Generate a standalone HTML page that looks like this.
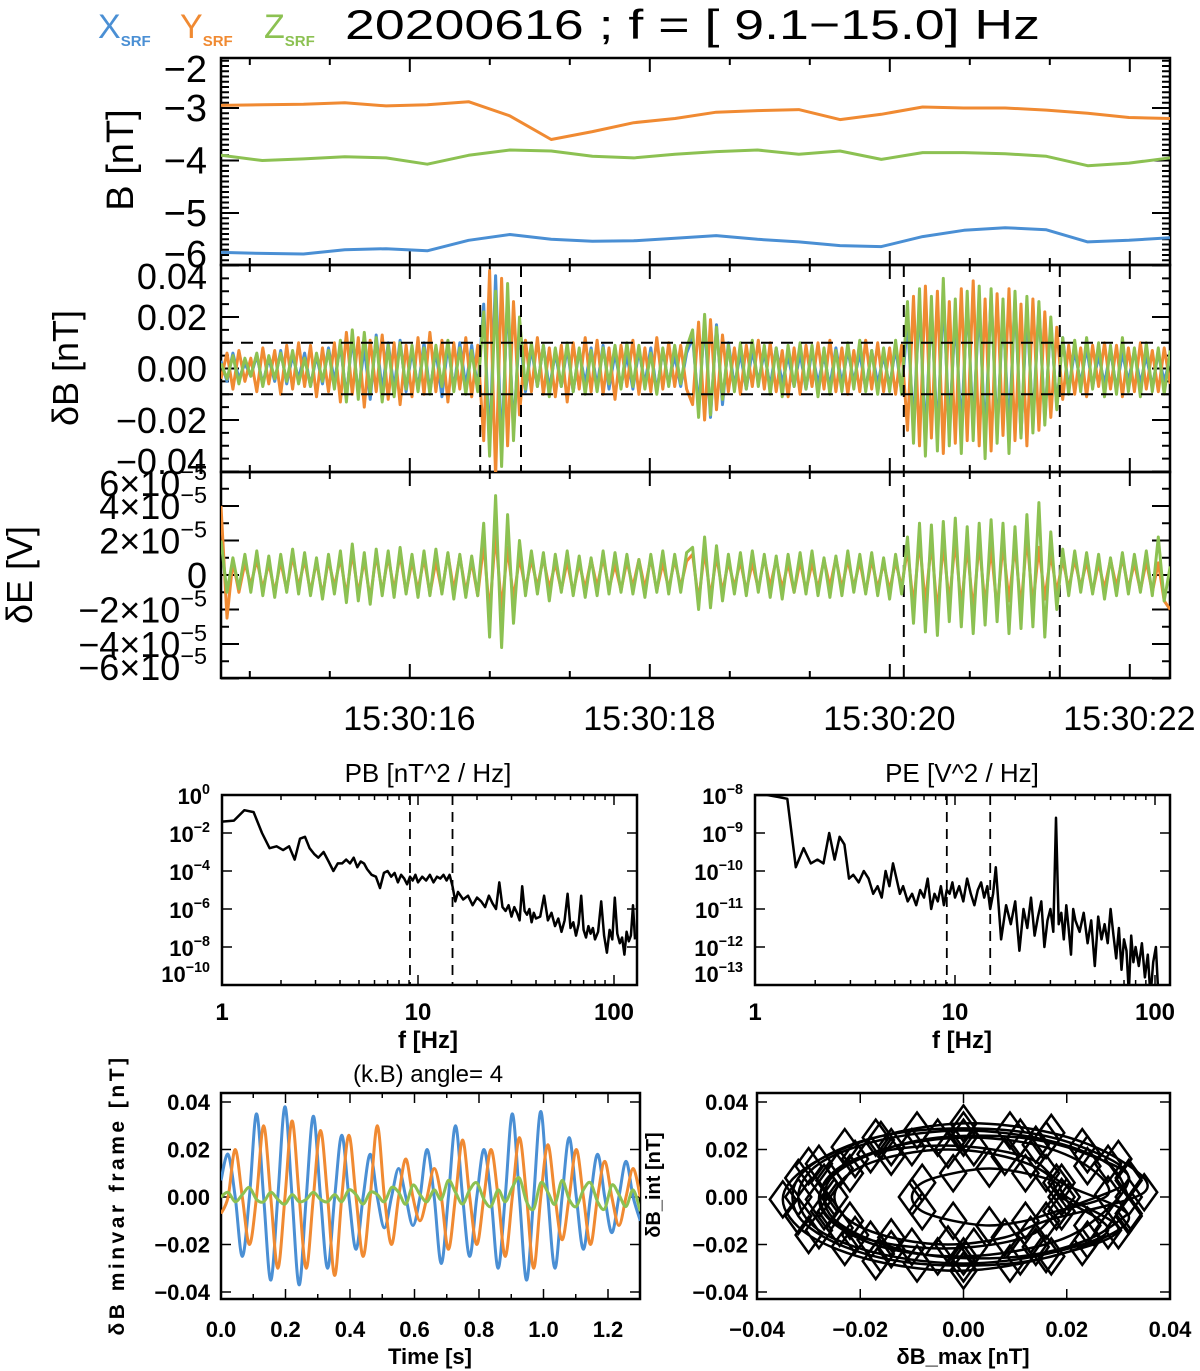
<!DOCTYPE html>
<html><head><meta charset="utf-8"><style>
html,body{margin:0;padding:0;background:#fff;}
svg{display:block;font-family:"Liberation Sans",sans-serif;}
</style></head><body>
<svg id="fig" width="1200" height="1371" viewBox="0 0 1200 1371" xmlns="http://www.w3.org/2000/svg">
<defs>
<clipPath id="cB"><rect x="221" y="58" width="949" height="207"/></clipPath>
<clipPath id="cDB"><rect x="221" y="265" width="949" height="207"/></clipPath>
<clipPath id="cDE"><rect x="221" y="472" width="949" height="206"/></clipPath>
<clipPath id="cPB"><rect x="222" y="795" width="415" height="190"/></clipPath>
<clipPath id="cPE"><rect x="755" y="795" width="415" height="190"/></clipPath>
<clipPath id="cMV"><rect x="221" y="1093" width="419" height="206"/></clipPath>
<clipPath id="cHO"><rect x="757" y="1093" width="413" height="206"/></clipPath>
</defs>
<g>
<text x="98" y="38" font-size="34" fill="#4a8fd4">X<tspan font-size="15" font-weight="bold" dy="8">SRF</tspan></text>
<text x="180" y="38" font-size="34" fill="#f08a32">Y<tspan font-size="15" font-weight="bold" dy="8">SRF</tspan></text>
<text x="264" y="38" font-size="34" fill="#8cc152">Z<tspan font-size="15" font-weight="bold" dy="8">SRF</tspan></text>
</g>
<text x="345" y="39" font-size="42" fill="#000" textLength="695" lengthAdjust="spacingAndGlyphs">20200616 ; f = [ 9.1−15.0] Hz</text>
<g id="layer"></g>
</svg>
<script>
// ---------- data ----------
const tStart = 14.43, tEnd = 22.34;
const timeTicks = [16, 18, 20, 22];
const timeTickLabels = ["15:30:16","15:30:18","15:30:20","15:30:22"];
const bX = [-5.75,-5.77,-5.78,-5.7,-5.68,-5.72,-5.52,-5.41,-5.5,-5.54,-5.53,-5.48,-5.43,-5.5,-5.55,-5.62,-5.64,-5.45,-5.33,-5.28,-5.32,-5.55,-5.52,-5.47];
const bY = [-2.95,-2.94,-2.93,-2.9,-2.96,-2.94,-2.88,-3.15,-3.6,-3.45,-3.28,-3.2,-3.08,-3.05,-3.03,-3.22,-3.12,-2.98,-3.0,-3.0,-3.04,-3.1,-3.18,-3.2];
const bZ = [-3.9,-4.0,-3.97,-3.93,-3.95,-4.07,-3.9,-3.8,-3.82,-3.92,-3.95,-3.88,-3.83,-3.8,-3.88,-3.82,-3.98,-3.85,-3.85,-3.87,-3.92,-4.1,-4.05,-3.95];
const bTicks = [-2,-3,-4,-5,-6];
// dB in 1e-3 nT
const dbX = [3,-5,6,-4,2,-3,5,-6,4,-5,7,-6,5,-4,6,-7,5,-6,8,-5, 9,-11,12,-10,8,-12,13,-9,10,-8,11,-9,7, -8,10,-9,7,-11,9,-8,10,-7,9,-8, 25,-30,36,-32,28,-24,15, -9,8,-7,9,-8,6,-7,8,-9,7,-6,8,-7,9,-8,6,-7,5,-8,7,-6,8,-9,7,-6,5,-7,6, 12,-15,18,-19,17,-14,10, -7,6,-8,7,-5,6,-7,8,-6,5,-7,6,-8,7,-6,5,-7,8,-6,7,-5,6,-8,7,-6,5,-7,8,-9, 18,-22,25,-27,24,-26,28,-23,20,-24,26,-22,25,-27,29,-25,22,-24,27,-26,23,-21,24,-20,18,-15,12, -8,7,-6,8,-7,5,-6,7,-8,6,-5,7,-6,5,-7,6,-5,4];
const dbY = [-4,6,-8,7,-5,4,-9,8,-6,7,-10,9,-8,10,-7,9,-11,8,-9,10, -13,14,-10,12,-15,11,-9,13,-12,10,-14,9,-11, 12,-10,14,-9,11,-13,10,-8,12,-11,9, -28,38,-42,35,-30,26,-18, 11,-9,12,-10,8,-11,9,-13,10,-8,12,-9,11,-10,8,-12,9,-7,11,-10,8,-9,12,-8,10,-7,9,-8, -14,18,-20,19,-16,13,-9, 8,-10,9,-7,11,-8,10,-9,7,-11,8,-10,9,-7,10,-8,11,-9,8,-10,7,-9,11,-8,10,-9,8,-10,9, -24,28,-30,32,-27,30,-33,26,-29,31,-28,34,-30,27,-32,29,-26,31,-28,25,-30,27,-24,22,-19,16,-12, 9,-10,8,-11,9,-7,10,-8,9,-11,8,-9,10,-8,7,-9,8,-6];
const dbZ = [2,-4,5,-6,4,-3,6,-7,5,-4,6,-5,7,-6,4,-7,6,-5,7,-8, 11,-13,15,-12,14,-10,12,-13,9,-11,10,-8,9, -9,8,-10,9,-7,11,-9,8,-10,7,-9, 22,-34,30,-38,33,-28,20, -8,10,-7,9,-11,8,-7,10,-9,8,-10,7,-9,8,-6,9,-8,10,-7,9,-8,6,-10,8,-7,9,-6,8, 15,-19,21,-18,16,-12,9, -9,10,-8,11,-7,9,-10,8,-11,9,-7,10,-8,9,-11,8,-10,7,-9,10,-8,11,-9,7,-10,8,-9,11,-10, 26,-29,31,-34,28,-32,35,-30,27,-33,30,-28,32,-35,31,-29,27,-33,30,-27,28,-25,26,-22,20,-16,12, -10,11,-9,12,-8,10,-11,9,-10,12,-9,8,-11,10,-9,8,-10,7];
const dbTicks = [0.04,0.02,0,-0.02,-0.04];
const dbTickLabels = ["0.04","0.02","0.00","−0.02","−0.04"];
const dbThreshold = [0.01,-0.01];
const windowTimes = [16.59,16.93,20.12,21.42];
// dE in 1e-6 V
const deY = [40,-25,8,-10,7,-6,9,-8,7,-10,8,-9,11,-7,9,-10,8,-12,9,-7, 10,-12,13,-11,9,-14,12,-10,11,-9,12,-10,8, -9,10,-11,8,-10,12,-9,11,-10,8,-12, 18,-22,24,-20,16,-14,10, -8,9,-7,10,-8,7,-9,8,-10,7,-8,9,-7,10,-8,6,-9,8,-7,9,-8,10,-9,7,-8,9,-7,8, 12,-15,14,-13,11,-10,8, -7,8,-9,7,-8,10,-7,9,-8,7,-10,8,-9,7,-8,9,-7,10,-8,9,-7,8,-10,9,-8,7,-9,8,-7, 15,-18,20,-17,19,-22,18,-16,20,-19,17,-21,19,-18,16,-20,18,-15,17,-19,22,-18,16,-14,12,-10,9, -8,9,-7,8,-10,7,-8,9,-7,10,-8,7,-9,8,-10,7,-15,-20];
const deZ = [20,-10,10,-8,12,-10,14,-12,11,-13,12,-10,15,-11,13,-12,10,-14,12,-11, 14,-16,18,-15,13,-17,15,-12,14,-13,16,-11,12, -13,14,-12,15,-11,13,-14,12,-13,11,-12, 30,-36,46,-42,35,-28,20, -12,14,-11,13,-15,12,-10,14,-12,11,-13,10,-12,14,-11,13,-10,12,-11,9,-13,12,-10,14,-11,12,-10,13, 16,-20,22,-19,17,-15,12, -11,13,-12,14,-10,12,-13,11,-14,12,-10,13,-11,14,-12,10,-13,11,-12,14,-10,12,-11,13,-12,10,-14,12,-11, 22,-28,30,-33,29,-35,31,-27,33,-30,28,-34,30,-29,32,-27,30,-34,28,-31,35,-30,42,-36,25,-20,15, -12,14,-10,13,-11,12,-14,10,-12,13,-11,12,-10,14,-12,22,-15,5];
const deTicks = [6,4,2,0,-2,-4,-6];
// spectra
const freqs = [1.0,1.15,1.3,1.45,1.6,1.75,1.9,2.05,2.2,2.35,2.5,2.65,2.8,2.95,3.1, 3.3,3.5,3.7,3.9,4.1,4.3,4.5,4.7,4.9,5.1,5.3,5.5, 5.8,6.1,6.4,6.7,7.0,7.3,7.6,7.9,8.2,8.5,8.8,9.1,9.4,9.7,10, 10.5,11,11.5,12,12.5,13,13.5,14,14.5,15,15.5,16, 17,18,19,20,21,22,23,24,25,26,27,28,29,30,31,32,33,34,35,36,37,38,39,40, 42,44,46,48,50,52,54,56,58,60,62,64,66,68,70,72,74,76,78,80, 83,86,89,92,95,98,101,104,107,110,113,116,119,122,125,128];
const pbLog = [-1.4,-1.35,-0.8,-0.9,-2.0,-2.8,-2.7,-2.9,-2.7,-3.4,-2.3,-2.2,-2.8,-3.1,-3.3, -3.0,-3.5,-4.0,-3.6,-3.6,-3.4,-3.6,-3.3,-3.8,-3.5,-3.6,-3.9, -4.2,-4.3,-4.9,-4.1,-4.0,-4.3,-4.1,-4.6,-4.2,-4.4,-4.7,-4.3,-4.5,-4.2,-4.6, -4.3,-4.5,-4.2,-4.6,-4.3,-4.4,-4.2,-4.5,-4.2,-4.8,-5.6,-5.1, -5.5,-5.3,-5.8,-5.4,-5.6,-5.9,-5.3,-5.7,-6.0,-4.6,-5.9,-6.1,-5.8,-6.4,-5.9,-6.2,-6.6,-4.8,-6.1,-6.3,-6.0,-6.7,-6.2,-6.5, -6.4,-5.3,-6.6,-6.2,-6.9,-6.5,-7.2,-6.6,-5.2,-7.0,-6.7,-7.4,-6.8,-5.3,-7.1,-7.5,-6.9,-7.3,-7.0,-7.6, -7.2,-5.6,-7.4,-8.3,-7.1,-7.6,-5.4,-7.3,-7.8,-7.5,-8.4,-7.2,-7.7,-7.4,-5.8,-7.6];
const peLog = [-8.0,-8.0,-8.05,-8.1,-9.9,-9.4,-9.8,-9.7,-9.8,-9.0,-9.7,-9.1,-9.3,-10.2,-10.1, -10.3,-10.0,-10.2,-10.6,-10.4,-10.7,-10.0,-10.4,-9.8,-10.2,-10.6,-10.4, -10.8,-10.6,-10.9,-10.5,-10.7,-10.2,-11.0,-10.6,-10.8,-10.4,-10.9,-10.5,-10.6,-10.3,-10.7, -10.4,-10.8,-10.2,-10.6,-10.9,-10.5,-10.3,-10.7,-10.4,-11.0,-10.6,-9.9, -11.8,-10.9,-11.4,-10.8,-12.1,-11.0,-11.5,-10.7,-11.7,-11.2,-10.8,-12.0,-11.3,-11.0,-11.6,-8.6,-11.4,-11.1,-11.8,-10.9,-11.5,-12.2,-11.0,-11.3, -11.6,-11.1,-11.9,-11.3,-12.5,-11.2,-11.8,-11.4,-11.9,-11.0,-11.7,-12.3,-11.5,-12.6,-11.8,-12.1,-13.2,-11.7,-12.4,-12.0, -12.5,-11.9,-12.8,-12.2,-13.3,-12.4,-12.0,-13.3];
const bandEdges = [9.1, 15.0];
const pbTicks = [0,-2,-4,-6,-8,-10];
const peTicks = [-8,-9,-10,-11,-12,-13];
const freqTicks = [1,10,100];
// minimum variance frame (1e-3 nT), 0..1.3 s
const mvMax = [7,18,0,-25,0,35,0,-35,0,38,0,-37,0,34,0,-30,0,26,0,-22,0,18,0,-13,0,12,0,-12,0,20,0,-28,0,30,0,-25,0,20,0,-30,0,35,0,-35,0,36,0,-30,0,25,0,-22,0,18,0,-15,0,15,0,-10];
const mvInt = [-7,0,20,0,-20,0,30,0,-30,0,32,0,-30,0,28,0,-33,0,26,0,-25,0,30,0,-20,0,16,0,-10,0,12,0,-22,0,24,0,-20,0,20,0,-25,0,25,0,-30,0,22,0,-18,0,20,0,-20,0,15,0,-12,0,12,0];
const mvMin = [0,2,-2,1,4,-1,-2,2,-1,-3,1,-2,-1,2,-1,-2,1,-2,3,1,-3,2,1,-2,4,2,-3,5,1,-2,3,-1,7,2,-3,3,6,-1,-4,3,-2,4,8,-2,-5,6,2,-3,7,-1,-4,3,6,-2,-5,5,1,-4,3,-6];
const mvDuration = 1.3;
const mvTimeTicks = [0,0.2,0.4,0.6,0.8,1.0,1.2];
const mvTimeLabels = ["0.0","0.2","0.4","0.6","0.8","1.0","1.2"];
const mvValTicks = [0.04,0.02,0,-0.02,-0.04];
const mvValLabels = ["0.04","0.02","0.00","−0.02","−0.04"];
// hodogram samples (1e-3 nT)
const hodoMax = [32,28,16,0,-16,-28,-32,-28,-16,0,16,28, 19,16,8,-3,-14,-22,-25,-22,-14,-3,8,16, 35,30,17,0,-17,-30,-35,-30,-17,0,17,30, 20,18,12,5,-2,-8,-10,-8,-2,5,12,18, 28,24,14,0,-14,-24,-28,-24,-14,0,14,24, 32,23,9,-9,-23,-32,-32,-23,-9,9,23,32, 19,13,2,-10,-21,-27,-27,-21,-10,2,13,19, 32,24,11,-5,-18,-26,-26,-18,-5,11,24,32];
const hodoInt = [0,14,24,28,24,14,0,-14,-24,-28,-24,-14, 0,10,17,20,17,10,0,-10,-17,-20,-17,-10, 2,16,27,31,25,13,-1,-16,-27,-31,-25,-14, 0,6,10,12,10,6,0,-6,-10,-12,-10,-6, 1,13,22,25,21,12,-1,-13,-22,-25,-21,-12, 8,21,28,28,21,8,-8,-21,-28,-28,-21,-8, 6,16,21,21,16,6,-6,-16,-21,-21,-16,-6, 7,18,25,25,18,7,-7,-18,-25,-25,-18,-7];
const hodoXTicks = [-0.04,-0.02,0,0.02,0.04];
const hodoXLabels = ["−0.04","−0.02","0.00","0.02","0.04"];

// ---------- helpers ----------
const NS = "http://www.w3.org/2000/svg";
const layer = document.getElementById('layer');
function mk(tag, attrs, parent){ const e=document.createElementNS(NS,tag); for(const k in attrs) e.setAttribute(k,attrs[k]); (parent||layer).appendChild(e); return e; }
const C = {x:'#4a8fd4', y:'#f08a32', z:'#8cc152'};
const tX = t => 221 + (t - 14.43) * 120;
const bYs = v => 108 + (-3 - v) * 52.5;
const dbYs = v => 368.5 - v * 2575;
const deYs = v => 575 - v * 17.25;
const pbX = f => 222 + 196 * Math.log10(f);
const pbY = l => 795 - l * 19;
const peX = f => 755 + 200 * Math.log10(f);
const peY = l => 795 + (-8 - l) * 38;
const mvX = t => 221 + t * 322.5;
const mvY = v => 1197 - v * 2375;
const hoX = v => 963.5 + v * 5163;
const clampC = (y, top, bot) => Math.max(top + 11, Math.min(bot - 11, y));

function poly(pts, color, w, clip, name){
  const e = mk('polyline',{points:pts.map(p=>p[0].toFixed(1)+','+p[1].toFixed(1)).join(' '),fill:'none',stroke:color,'stroke-width':w,'stroke-linejoin':'round','clip-path':'url(#'+clip+')'});
  
  
  return e;
}
function smooth(pts, color, w, clip, name){
  let d='M'+pts[0][0]+','+pts[0][1];
  for(let i=0;i<pts.length-1;i++){
    const p0=pts[Math.max(0,i-1)],p1=pts[i],p2=pts[i+1],p3=pts[Math.min(pts.length-1,i+2)];
    const c1=[p1[0]+(p2[0]-p0[0])/6,p1[1]+(p2[1]-p0[1])/6], c2=[p2[0]-(p3[0]-p1[0])/6,p2[1]-(p3[1]-p1[1])/6];
    d+=' C'+c1[0].toFixed(1)+','+c1[1].toFixed(1)+' '+c2[0].toFixed(1)+','+c2[1].toFixed(1)+' '+p2[0].toFixed(1)+','+p2[1].toFixed(1);
  }
  const e=mk('path',{d:d,fill:'none',stroke:color,'stroke-width':w,'clip-path':'url(#'+clip+')'});
  
  
}
function frame(x,y,w,h,name){
  const e=mk('rect',{x:x,y:y,width:w,height:h,fill:'none',stroke:'#000','stroke-width':2.5});
  
  
}
function line(x1,y1,x2,y2,w,dash,name){
  const a={x1:x1,y1:y1,x2:x2,y2:y2,stroke:'#000','stroke-width':w};
  if(dash) a['stroke-dasharray']=dash;
  const e=mk('line',a);
  
  
}
function txt(x,y,s,size,anchor,name,extra){
  const a={x:x,y:y,'font-size':size,'text-anchor':anchor||'start',fill:'#000'};
  if(extra) for(const k in extra) a[k]=extra[k];
  const e=mk('text',a); e.textContent=s;
  
  
  return e;
}
function sup(x,y,base,exp,size,anchor,name,bold){
  const e=mk('text',{x:x,y:y,'font-size':size,'text-anchor':anchor,fill:'#000','font-weight':bold?'bold':'normal'});
  e.textContent=base;
  const s=document.createElementNS(NS,'tspan'); s.setAttribute('font-size',size*0.65); s.setAttribute('dy',-size*0.45); s.textContent=exp; e.appendChild(s);
  
  
}
const seriesT = (arr,i) => tStart + (tEnd - tStart) * i / (arr.length - 1);

// ---------- top stacked panels ----------
const panels = [[58,265],[265,472],[472,678]];
panels.forEach((p,k)=>{
  frame(221,p[0],949,p[1]-p[0],'panel-frame-'+k);
  for(let t=14.67;t<=22.34;t+=2/3){
    const major = Math.abs(Math.round(t)-t)<0.02 && Math.round(t)%2===0;
    const L = major?14:7;
    line(tX(t),p[0],tX(t),p[0]+L,2,null,'time-tick');
    line(tX(t),p[1],tX(t),p[1]-L,2,null,'time-tick');
  }
});
// B panel
for(let v=-2;v>=-6.05;v-=0.1){ const major=Math.abs(v-Math.round(v))<0.01; const L=major?18:8; const y=bYs(v); if(y<58||y>265) continue; line(221,y,221+L,y,2,null,'b-y-tick'); line(1170,y,1170-L,y,2,null,'b-y-tick'); }
bTicks.forEach(v=>txt(207,clampC(bYs(v),58,265)+13,'−'+Math.abs(v),38,'end','b-y-tick-label'));
txt(0,0,'B [nT]',38,'middle','b-y-axis-title',{transform:'translate(133,160) rotate(-90)'});
poly(bY.map((v,i)=>[tX(seriesT(bY,i)),bYs(v)]),C.y,3,'cB','b-y-line');
poly(bZ.map((v,i)=>[tX(seriesT(bZ,i)),bYs(v)]),C.z,3,'cB','b-z-line');
poly(bX.map((v,i)=>[tX(seriesT(bX,i)),bYs(v)]),C.x,3,'cB','b-x-line');
// dB panel
for(let v=-0.04;v<=0.0401;v+=0.005){ const major=Math.abs(v/0.02-Math.round(v/0.02))<0.01; const L=major?18:8; line(221,dbYs(v),221+L,dbYs(v),2,null,'db-y-tick'); line(1170,dbYs(v),1170-L,dbYs(v),2,null,'db-y-tick'); }
dbTicks.forEach((v,i)=>txt(207,clampC(dbYs(v),265,472)+13,dbTickLabels[i],36,'end','db-y-tick-label'));
txt(0,0,'δB [nT]',36,'middle','db-y-axis-title',{transform:'translate(78,368) rotate(-90)'});
poly(dbX.map((v,i)=>[tX(seriesT(dbX,i)),dbYs(v/1000)]),C.x,3,'cDB','db-x-line');
poly(dbY.map((v,i)=>[tX(seriesT(dbY,i)),dbYs(v/1000)]),C.y,3,'cDB','db-y-line');
poly(dbZ.map((v,i)=>[tX(seriesT(dbZ,i)),dbYs(v/1000)]),C.z,3,'cDB','db-z-line');
dbThreshold.forEach(v=>line(221,dbYs(v),1170,dbYs(v),2,'12,8','db-threshold-line'));
windowTimes.forEach((t,i)=>line(tX(t),265,tX(t),i<2?472:678,2,'12,8','wave-window-line'));
// dE panel
for(let v=-6;v<=6.01;v+=1){ const major=Math.abs(v/2-Math.round(v/2))<0.01; const L=major?18:8; line(221,deYs(v),221+L,deYs(v),2,null,'de-y-tick'); line(1170,deYs(v),1170-L,deYs(v),2,null,'de-y-tick'); }
deTicks.forEach(v=>{ const yc=clampC(deYs(v),472,678); if(v===0) txt(207,yc+13,'0',36,'end','de-y-tick-label'); else sup(207,yc+13,(v<0?'−':'')+Math.abs(v)+'×10','−5',36,'end','de-y-tick-label'); });
txt(0,0,'δE [V]',36,'middle','de-y-axis-title',{transform:'translate(32,575) rotate(-90)'});
poly(deY.map((v,i)=>[tX(seriesT(deY,i)),deYs(v/10)]),C.y,3,'cDE','de-y-line');
poly(deZ.map((v,i)=>[tX(seriesT(deZ,i)),deYs(v/10)]),C.z,3,'cDE','de-z-line');
timeTicks.forEach((t,i)=>txt(tX(t),730,timeTickLabels[i],34,'middle','time-tick-label'));

// ---------- spectra ----------
function minorLog(xf, x0, x1, y0, y1, name){
  for(let d=1; d<=100; d*=10) for(let m=1;m<10;m++){ const f=d*m; const x=xf(f); if(x<x0-0.5||x>x1) continue; const L=m===1?10:5; line(x,y1,x,y1-L,1.5,null,name); line(x,y0,x,y0+L,1.5,null,name); }
}
frame(222,795,415,190,'pb-frame');
minorLog(pbX,222,637,795,985,'pb-x-tick');
pbTicks.forEach(l=>{ line(222,pbY(l),232,pbY(l),1.5,null,'pb-y-tick'); line(637,pbY(l),627,pbY(l),1.5,null,'pb-y-tick'); sup(210,Math.min(pbY(l)+9,982),'10',String(l).replace('-','−'),22,'end','pb-y-tick-label',true); });
bandEdges.forEach(f=>line(pbX(f),795,pbX(f),985,1.8,'10,7','pb-band-line'));
poly(pbLog.map((l,i)=>[pbX(freqs[i]),pbY(l)]),'#000',2.5,'cPB','pb-spectrum');
txt(428,782,'PB [nT^2 / Hz]',26,'middle','pb-title');
freqTicks.forEach(f=>txt(pbX(f),1020,String(f),24,'middle','pb-x-tick-label',{'font-weight':'bold'}));
txt(428,1048,'f [Hz]',24,'middle','pb-x-axis-title',{'font-weight':'bold'});

frame(755,795,415,190,'pe-frame');
minorLog(peX,755,1170,795,985,'pe-x-tick');
peTicks.forEach(l=>{ line(755,peY(l),765,peY(l),1.5,null,'pe-y-tick'); line(1170,peY(l),1160,peY(l),1.5,null,'pe-y-tick'); sup(743,Math.min(peY(l)+9,982),'10',String(l).replace('-','−'),22,'end','pe-y-tick-label',true); });
bandEdges.forEach(f=>line(peX(f),795,peX(f),985,1.8,'10,7','pe-band-line'));
poly(peLog.map((l,i)=>[peX(freqs[i]),peY(l)]),'#000',2.5,'cPE','pe-spectrum');
txt(962,782,'PE [V^2 / Hz]',26,'middle','pe-title');
freqTicks.forEach(f=>txt(peX(f),1020,String(f),24,'middle','pe-x-tick-label',{'font-weight':'bold'}));
txt(962,1048,'f [Hz]',24,'middle','pe-x-axis-title',{'font-weight':'bold'});

// ---------- minvar waveform ----------
frame(221,1093,419,206,'minvar-frame');
for(let t=0;t<=1.3;t+=0.1){ const L=Math.abs(t/0.2-Math.round(t/0.2))<0.01?10:5; line(mvX(t),1299,mvX(t),1299-L,1.5,null,'minvar-x-tick'); line(mvX(t),1093,mvX(t),1093+L,1.5,null,'minvar-x-tick'); }
mvValTicks.forEach(v=>{ line(221,mvY(v),231,mvY(v),1.5,null,'minvar-y-tick'); line(640,mvY(v),630,mvY(v),1.5,null,'minvar-y-tick'); });
const mvT = i => mvDuration * i / (mvMax.length - 1);
smooth(mvMax.map((v,i)=>[mvX(mvT(i)),mvY(v/1000)]),C.x,3,'cMV','minvar-max-line');
smooth(mvInt.map((v,i)=>[mvX(mvT(i)),mvY(v/1000)]),C.y,3,'cMV','minvar-int-line');
smooth(mvMin.map((v,i)=>[mvX(mvT(i)),mvY(v/1000)]),C.z,3,'cMV','minvar-min-line');
mvValTicks.forEach((v,i)=>txt(210,mvY(v)+8,mvValLabels[i],22,'end','minvar-y-tick-label',{'font-weight':'bold'}));
mvTimeTicks.forEach((t,i)=>txt(mvX(t),1337,mvTimeLabels[i],22,'middle','minvar-x-tick-label',{'font-weight':'bold'}));
txt(430,1364,'Time [s]',22,'middle','minvar-x-axis-title',{'font-weight':'bold'});
txt(0,0,'δB minvar frame [nT]',21,'middle','minvar-y-axis-title',{transform:'translate(124,1195) rotate(-90)','font-weight':'bold','letter-spacing':'3.5'});
txt(428,1082,'(k.B) angle=    4',24,'middle','minvar-title',{'xml:space':'preserve'});

// ---------- hodogram ----------
frame(757,1093,413,206,'hodogram-frame');
hodoXTicks.forEach(v=>{ line(hoX(v),1299,hoX(v),1289,1.5,null,'hodogram-x-tick'); line(hoX(v),1093,hoX(v),1103,1.5,null,'hodogram-x-tick'); });
mvValTicks.forEach(v=>{ line(757,mvY(v),767,mvY(v),1.5,null,'hodogram-y-tick'); line(1170,mvY(v),1160,mvY(v),1.5,null,'hodogram-y-tick'); });
smooth(hodoMax.map((v,i)=>[hoX(v/1000),mvY(hodoInt[i]/1000)]),'#000',2.5,'cHO','hodogram-line');
const hg = mk('g',{'clip-path':'url(#cHO)'});


hodoMax.forEach((v,i)=>{
  const cx=hoX(v/1000), cy=mvY(hodoInt[i]/1000);
  const m=mk('path',{d:`M${cx-13},${cy} L${cx},${cy-18} L${cx+13},${cy} L${cx},${cy+18} Z`,fill:'none',stroke:'#000','stroke-width':2.5},hg);
  
  
});
mvValTicks.forEach((v,i)=>txt(748,mvY(v)+8,mvValLabels[i],22,'end','hodogram-y-tick-label',{'font-weight':'bold'}));
hodoXTicks.forEach((v,i)=>txt(hoX(v),1337,hodoXLabels[i],22,'middle','hodogram-x-tick-label',{'font-weight':'bold'}));
txt(963,1364,'δB_max [nT]',22,'middle','hodogram-x-axis-title',{'font-weight':'bold'});
txt(0,0,'δB_int [nT]',20,'middle','hodogram-y-axis-title',{transform:'translate(660,1185) rotate(-90)','font-weight':'bold'});
</script>
</body></html>
